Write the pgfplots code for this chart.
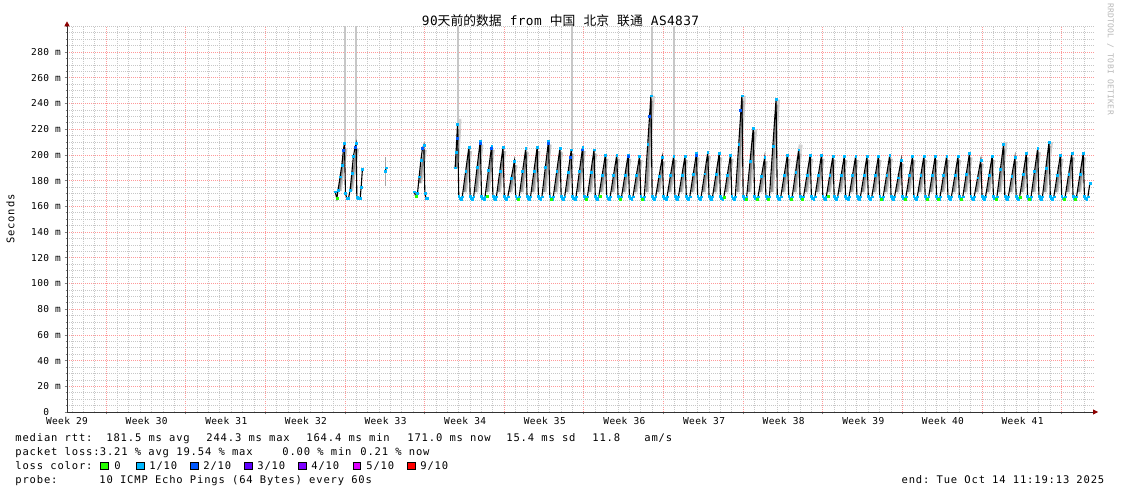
\documentclass[border=0pt]{standalone}
\usepackage{fontspec}
\usepackage{pgfplots}
\usepackage{pgfplotstable}
\pgfplotsset{compat=1.18}
\usetikzlibrary{arrows.meta}
\setmainfont{DejaVu Sans Mono}
\newfontfamily\legfont[LetterSpace=8,WordSpace=1.0]{DejaVu Sans Mono}
\newfontfamily\tickfont[LetterSpace=4,WordSpace=1.0]{DejaVu Sans Mono}
\newfontfamily\ttlfont[LetterSpace=3,WordSpace=1.0]{DejaVu Sans Mono}
\newfontfamily\cjk{Noto Sans CJK SC}
\newcommand\tfont{\tickfont\fontsize{9.5}{11}\selectfont}
\newcommand\lfont{\legfont\fontsize{10.5}{12}\selectfont}
\definecolor{lc0}{HTML}{26FF00}
\definecolor{lc1}{HTML}{00B8FF}
\definecolor{lc2}{HTML}{0059FF}
\definecolor{lc3}{HTML}{5E00FF}
\definecolor{lc4}{HTML}{7E00FF}
\definecolor{lc5}{HTML}{DD00FF}
\definecolor{lc9}{HTML}{FF0000}
\newcommand\lc[1]{{\setlength\fboxsep{0pt}\setlength\fboxrule{0.8pt}\fcolorbox{black}{#1}{\rule{0pt}{6.8pt}\rule{6.8pt}{0pt}}}}
% one legend item, placed where rrdtool put it
\newcommand\leg[3]{\node[anchor=base west, inner sep=0] at (#1pt,#2pt) {\lfont #3};}

% median rtt, x in days since start of graph
\pgfplotstableread[row sep=\\]{
x y\\
23.57 171.4\\ 23.72 166\\ 23.83 172.7\\ 24.01 183\\ 24.16 192\\ 24.30 203.8\\ 24.39 209\\
24.48 170\\ 24.60 166\\ 24.74 166\\ 24.89 172.7\\ 25.04 186\\ 25.18 199\\ 25.33 206\\ 25.42 209\\
25.48 167\\ 25.59 166\\ 25.77 166\\ 25.86 175\\ 25.97 189\\
nan nan\\
27.99 187\\ 28.05 190\\
nan nan\\
30.52 171.4\\ 30.67 167.5\\ 30.81 170\\ 30.96 183\\ 31.11 196\\ 31.25 205\\ 31.37 207.7\\
31.46 170\\ 31.57 166\\ 31.69 166\\
nan nan\\
34.12 190\\ 34.20 202\\ 34.27 213\\ 34.33 224\\
34.44 168\\ 34.53 166\\ 34.64 165.5\\ 34.75 167.5\\ 35.05 187.5\\ 35.33 206\\
35.44 168\\ 35.53 166\\ 35.64 165.5\\ 35.75 167.5\\ 36.05 190.1\\ 36.33 211\\
36.44 168\\ 36.53 166\\ 36.64 165.5\\ 36.75 167.5\\ 37.05 188.0\\ 37.33 207\\
37.44 168\\ 37.53 166\\ 37.64 165.5\\ 37.75 167.5\\ 38.05 187.5\\ 38.33 206\\
38.44 168\\ 38.53 166\\ 38.64 165.5\\ 38.75 167.5\\ 39.05 181.8\\ 39.33 195\\
39.44 168\\ 39.53 166\\ 39.64 165.5\\ 39.75 167.5\\ 40.05 187.0\\ 40.33 205\\
40.44 168\\ 40.53 166\\ 40.64 165.5\\ 40.75 167.5\\ 41.05 187.5\\ 41.33 206\\
41.44 168\\ 41.53 166\\ 41.64 165.5\\ 41.75 167.5\\ 42.05 190.1\\ 42.33 211\\
42.44 168\\ 42.53 166\\ 42.64 165.5\\ 42.75 167.5\\ 43.05 187.0\\ 43.33 205\\
43.44 168\\ 43.53 166\\ 43.64 165.5\\ 43.75 167.5\\ 44.05 186.5\\ 44.33 204\\
44.44 168\\ 44.53 166\\ 44.64 165.5\\ 44.75 167.5\\ 45.05 187.5\\ 45.33 206\\
45.44 168\\ 45.53 166\\ 45.64 165.5\\ 45.75 167.5\\ 46.05 186.5\\ 46.33 204\\
46.44 168\\ 46.53 166\\ 46.64 165.5\\ 46.75 167.5\\ 47.05 184.4\\ 47.33 200\\
47.44 168\\ 47.53 166\\ 47.64 165.5\\ 47.75 167.5\\ 48.05 184.4\\ 48.33 200\\
48.44 168\\ 48.53 166\\ 48.64 165.5\\ 48.75 167.5\\ 49.05 184.4\\ 49.33 200\\
49.44 168\\ 49.53 166\\ 49.64 165.5\\ 49.75 167.5\\ 50.05 183.9\\ 50.33 199\\
50.44 168\\ 50.53 166\\ 50.64 165.5\\ 50.75 167.5\\ 51.05 208.3\\ 51.33 246\\
51.44 168\\ 51.53 166\\ 51.64 165.5\\ 51.75 167.5\\ 52.05 183.4\\ 52.33 198\\
52.44 168\\ 52.53 166\\ 52.64 165.5\\ 52.75 167.5\\ 53.05 183.9\\ 53.33 199\\
53.44 168\\ 53.53 166\\ 53.64 165.5\\ 53.75 167.5\\ 54.05 183.9\\ 54.33 199\\
54.44 168\\ 54.53 166\\ 54.64 165.5\\ 54.75 167.5\\ 55.05 184.9\\ 55.33 201\\
55.44 168\\ 55.53 166\\ 55.64 165.5\\ 55.75 167.5\\ 56.05 185.4\\ 56.33 202\\
56.44 168\\ 56.53 166\\ 56.64 165.5\\ 56.75 167.5\\ 57.05 184.9\\ 57.33 201\\
57.44 168\\ 57.53 166\\ 57.64 165.5\\ 57.75 167.5\\ 58.05 184.4\\ 58.33 200\\
58.44 168\\ 58.53 166\\ 58.64 165.5\\ 58.75 167.5\\ 59.05 208.3\\ 59.33 246\\
59.44 168\\ 59.53 166\\ 59.64 165.5\\ 59.75 167.5\\ 60.05 195.3\\ 60.33 221\\
60.44 168\\ 60.53 166\\ 60.64 165.5\\ 60.75 167.5\\ 61.05 183.4\\ 61.33 198\\
61.44 168\\ 61.53 166\\ 61.64 165.5\\ 61.75 167.5\\ 62.05 206.8\\ 62.33 243\\
62.44 168\\ 62.53 166\\ 62.64 165.5\\ 62.75 167.5\\ 63.05 184.4\\ 63.33 200\\
63.44 168\\ 63.53 166\\ 63.64 165.5\\ 63.75 167.5\\ 64.05 186.5\\ 64.33 204\\
64.44 168\\ 64.53 166\\ 64.64 165.5\\ 64.75 167.5\\ 65.05 184.4\\ 65.33 200\\
65.44 168\\ 65.53 166\\ 65.64 165.5\\ 65.75 167.5\\ 66.05 184.4\\ 66.33 200\\
66.44 168\\ 66.53 166\\ 66.64 165.5\\ 66.75 167.5\\ 67.05 183.9\\ 67.33 199\\
67.44 168\\ 67.53 166\\ 67.64 165.5\\ 67.75 167.5\\ 68.05 183.9\\ 68.33 199\\
68.44 168\\ 68.53 166\\ 68.64 165.5\\ 68.75 167.5\\ 69.05 183.9\\ 69.33 199\\
69.44 168\\ 69.53 166\\ 69.64 165.5\\ 69.75 167.5\\ 70.05 183.9\\ 70.33 199\\
70.44 168\\ 70.53 166\\ 70.64 165.5\\ 70.75 167.5\\ 71.05 183.9\\ 71.33 199\\
71.44 168\\ 71.53 166\\ 71.64 165.5\\ 71.75 167.5\\ 72.05 184.4\\ 72.33 200\\
72.44 168\\ 72.53 166\\ 72.64 165.5\\ 72.75 167.5\\ 73.05 182.3\\ 73.33 196\\
73.44 168\\ 73.53 166\\ 73.64 165.5\\ 73.75 167.5\\ 74.05 183.9\\ 74.33 199\\
74.44 168\\ 74.53 166\\ 74.64 165.5\\ 74.75 167.5\\ 75.05 183.9\\ 75.33 199\\
75.44 168\\ 75.53 166\\ 75.64 165.5\\ 75.75 167.5\\ 76.05 183.9\\ 76.33 199\\
76.44 168\\ 76.53 166\\ 76.64 165.5\\ 76.75 167.5\\ 77.05 183.9\\ 77.33 199\\
77.44 168\\ 77.53 166\\ 77.64 165.5\\ 77.75 167.5\\ 78.05 183.9\\ 78.33 199\\
78.44 168\\ 78.53 166\\ 78.64 165.5\\ 78.75 167.5\\ 79.05 184.9\\ 79.33 201\\
79.44 168\\ 79.53 166\\ 79.64 165.5\\ 79.75 167.5\\ 80.05 182.3\\ 80.33 196\\
80.44 168\\ 80.53 166\\ 80.64 165.5\\ 80.75 167.5\\ 81.05 183.9\\ 81.33 199\\
81.44 168\\ 81.53 166\\ 81.64 165.5\\ 81.75 167.5\\ 82.05 188.6\\ 82.33 208\\
82.44 168\\ 82.53 166\\ 82.64 165.5\\ 82.75 167.5\\ 83.05 183.4\\ 83.33 198\\
83.44 168\\ 83.53 166\\ 83.64 165.5\\ 83.75 167.5\\ 84.05 184.9\\ 84.33 201\\
84.44 168\\ 84.53 166\\ 84.64 165.5\\ 84.75 167.5\\ 85.05 187.0\\ 85.33 205\\
85.44 168\\ 85.53 166\\ 85.64 165.5\\ 85.75 167.5\\ 86.05 189.6\\ 86.33 210\\
86.44 168\\ 86.53 166\\ 86.64 165.5\\ 86.75 167.5\\ 87.05 184.4\\ 87.33 200\\
87.44 168\\ 87.53 166\\ 87.64 165.5\\ 87.75 167.5\\ 88.05 184.9\\ 88.33 201\\
88.44 168\\ 88.53 166\\ 88.64 165.5\\ 88.75 167.5\\ 89.05 184.9\\ 89.33 201\\
89.44 168\\ 89.53 166\\ 89.64 165.5\\ 89.75 167.5\\ 89.92 178\\
}\median

% smoke: spread of the pings along each daily rise
\pgfplotstableread[row sep=\\]{
x y\\
23.85 172\\ 24.36 205\\ nan nan\\ 24.85 172\\ 25.38 205\\ nan nan\\
30.92 178\\ 31.33 204\\ nan nan\\ 34.12 190\\ 34.31 220\\ nan nan\\
34.85 171\\ 35.31 203\\ nan nan\\ 35.85 171\\ 36.31 208\\ nan nan\\
36.85 171\\ 37.31 204\\ nan nan\\ 37.85 171\\ 38.31 203\\ nan nan\\
38.85 171\\ 39.31 192\\ nan nan\\ 39.85 171\\ 40.31 202\\ nan nan\\
40.85 171\\ 41.31 203\\ nan nan\\ 41.85 171\\ 42.31 208\\ nan nan\\
42.85 171\\ 43.31 202\\ nan nan\\ 43.85 171\\ 44.31 201\\ nan nan\\
44.85 171\\ 45.31 203\\ nan nan\\ 45.85 171\\ 46.31 201\\ nan nan\\
46.85 171\\ 47.31 197\\ nan nan\\ 47.85 171\\ 48.31 197\\ nan nan\\
48.85 171\\ 49.31 197\\ nan nan\\ 49.85 171\\ 50.31 196\\ nan nan\\
50.85 171\\ 51.31 242\\ nan nan\\ 51.85 171\\ 52.31 195\\ nan nan\\
52.85 171\\ 53.31 196\\ nan nan\\ 53.85 171\\ 54.31 196\\ nan nan\\
54.85 171\\ 55.31 198\\ nan nan\\ 55.85 171\\ 56.31 199\\ nan nan\\
56.85 171\\ 57.31 198\\ nan nan\\ 57.85 171\\ 58.31 197\\ nan nan\\
58.85 171\\ 59.31 242\\ nan nan\\ 59.85 171\\ 60.31 218\\ nan nan\\
60.85 171\\ 61.31 195\\ nan nan\\ 61.85 171\\ 62.31 239\\ nan nan\\
62.85 171\\ 63.31 197\\ nan nan\\ 63.85 171\\ 64.31 201\\ nan nan\\
64.85 171\\ 65.31 197\\ nan nan\\ 65.85 171\\ 66.31 197\\ nan nan\\
66.85 171\\ 67.31 196\\ nan nan\\ 67.85 171\\ 68.31 196\\ nan nan\\
68.85 171\\ 69.31 196\\ nan nan\\ 69.85 171\\ 70.31 196\\ nan nan\\
70.85 171\\ 71.31 196\\ nan nan\\ 71.85 171\\ 72.31 197\\ nan nan\\
72.85 171\\ 73.31 193\\ nan nan\\ 73.85 171\\ 74.31 196\\ nan nan\\
74.85 171\\ 75.31 196\\ nan nan\\ 75.85 171\\ 76.31 196\\ nan nan\\
76.85 171\\ 77.31 196\\ nan nan\\ 77.85 171\\ 78.31 196\\ nan nan\\
78.85 171\\ 79.31 198\\ nan nan\\ 79.85 171\\ 80.31 193\\ nan nan\\
80.85 171\\ 81.31 196\\ nan nan\\ 81.85 171\\ 82.31 205\\ nan nan\\
82.85 171\\ 83.31 195\\ nan nan\\ 83.85 171\\ 84.31 198\\ nan nan\\
84.85 171\\ 85.31 202\\ nan nan\\ 85.85 171\\ 86.31 207\\ nan nan\\
86.85 171\\ 87.31 197\\ nan nan\\ 87.85 171\\ 88.31 198\\ nan nan\\
88.85 171\\ 89.31 198\\ nan nan\\
}\smoke

% wider smoke round the high evenings
\pgfplotstableread[row sep=\\]{
x y\\
34.12 195\\ 34.31 228\\ nan nan\\ 50.85 185\\ 51.31 246\\ nan nan\\
58.85 185\\ 59.31 246\\ nan nan\\ 59.85 180\\ 60.31 220\\ nan nan\\
61.85 185\\ 62.31 243\\ nan nan\\ 63.90 185\\ 64.31 208\\ nan nan\\
81.95 185\\ 82.31 210\\ nan nan\\ 85.90 185\\ 86.31 210\\ nan nan\\
}\smokewide

\begin{document}
\begin{tikzpicture}
\path[use as bounding box] (0,0) rectangle (1121pt,494pt);
\fill[white] (0,0) rectangle (1121pt,494pt);
\begin{axis}[
  at={(67pt,82pt)}, anchor=south west,
  scale only axis, width=1026pt, height=385.7pt,
  xmin=0, xmax=90.2, ymin=0, ymax=300,
  axis lines=left,
  axis line style={black!80, line width=0.7pt},
  x axis line style={-{Triangle[length=5pt,width=5pt,color=red!55!black]}, shorten >=-5pt},
  y axis line style={-{Triangle[length=5pt,width=5pt,color=red!55!black]}, shorten >=-5pt},
  xtick={3.43,10.43,17.43,24.43,31.43,38.43,45.43,52.43,59.43,66.43,73.43,80.43,87.43},
  xticklabels={},
  minor xtick={0.43,1.43,...,89.43},
  extra x ticks={0,7,14,21,28,35,42,49,56,63,70,77,84},
  extra x tick labels={Week 29,Week 30,Week 31,Week 32,Week 33,Week 34,Week 35,Week 36,Week 37,Week 38,Week 39,Week 40,Week 41},
  extra x tick style={grid=none, major tick length=0pt},
  ytick={0,20,...,280},
  yticklabels={0\phantom{~m},20~m,40~m,60~m,80~m,100~m,120~m,140~m,160~m,180~m,200~m,220~m,240~m,260~m,280~m},
  minor ytick={5,10,...,300},
  grid=both,
  major grid style={red!40, dash pattern=on 1pt off 1pt, line width=0.7pt},
  minor grid style={black!22, dash pattern=on 1pt off 1pt, line width=0.7pt},
  tick align=outside, major tick length=2.5pt, minor tick length=1.5pt,
  tick style={black!50, line width=0.6pt},
  tick label style={font=\tfont},
  xticklabel style={yshift=-2pt},
  unbounded coords=jump,
]
\addplot[black!18, line width=4pt, xshift=2.2pt, no markers] table {\smokewide};
\addplot[black!22, line width=3.2pt, xshift=1.8pt, no markers] table {\smoke};
\addplot[black!45, line width=1.8pt, xshift=1.0pt, no markers] table {\smoke};
% single pings far above the rest
\addplot[black!22, line width=1.4pt, no markers] coordinates {
(24.45,209) (24.45,300) (24.45,nan) (25.40,209) (25.40,300) (25.40,nan)
(34.37,222) (34.37,300) (34.37,nan) (44.39,204) (44.39,300) (44.39,nan)
(51.42,246) (51.42,300) (51.42,nan) (53.35,199) (53.35,300) (53.35,nan)
};
\addplot[black!35, line width=1.4pt, no markers] coordinates {(28.02,176) (28.02,198)};
\addplot[black, line width=1.1pt, no markers] table {\median};
\addplot[only marks, mark=square*, mark size=0.9pt, color=lc1] table {\median};
\addplot[only marks, mark=square*, mark size=1.0pt, color=lc0] coordinates {
(23.72,166) (30.67,167.5) (36.9,168) (39.7,165.5) (42.6,165.5) (45.6,165.5) (46.9,168)
(48.6,165.5) (50.6,165.5) (57.8,167) (59.7,165.5) (60.7,165.5) (61.6,165.5) (63.7,165.5)
(64.6,165.5) (66.9,168) (71.6,165.5) (73.7,165.5) (75.6,165.5) (76.6,165.5) (78.6,165.5)
(81.7,165.5) (83.8,167) (84.6,165.5) (87.7,165.5) (88.6,165.5)
};
\addplot[only marks, mark=square*, mark size=0.9pt, color=lc2] coordinates {
(24.30,203.8) (25.33,206) (31.25,205) (34.27,213) (36.30,209) (37.30,205) (42.30,209)
(44.20,198) (45.30,204) (49.30,199) (51.20,230) (55.30,200) (59.20,235)
};
\end{axis}
\node[anchor=base, inner sep=0] at (560.5pt,468pt) {\ttlfont\fontsize{12.8}{14}\selectfont 90{\cjk 天前的数据} from {\cjk 中国} {\cjk 北京} {\cjk 联通} AS4837};
\node[rotate=90, inner sep=0] at (10.5pt,275pt) {\lfont Seconds};
\node[rotate=-90, inner sep=0, text=black!28] at (1110.5pt,435pt) {\tickfont\fontsize{8}{9}\selectfont RRDTOOL / TOBI OETIKER};
% legend, line by line
\leg{15.2}{52.5}{median~rtt:}
\leg{106.2}{52.5}{181.5~ms~avg}
\leg{206.2}{52.5}{244.3~ms~max}
\leg{306.2}{52.5}{164.4~ms~min}
\leg{407.2}{52.5}{171.0~ms~now}
\leg{506.2}{52.5}{15.4~ms~sd}
\leg{592.2}{52.5}{11.8}
\leg{644.2}{52.5}{am/s}
\leg{15.2}{38.5}{packet~loss:}
\leg{99.7}{38.5}{3.21~\%~avg}
\leg{176.2}{38.5}{19.54~\%~max}
\leg{282.2}{38.5}{0.00~\%~min}
\leg{360.2}{38.5}{0.21~\%~now}
\leg{15.2}{24.5}{loss~color:}
\leg{100}{24.5}{\lc{lc0}}
\leg{114.2}{24.5}{0}
\leg{136}{24.5}{\lc{lc1}}
\leg{149.2}{24.5}{1/10}
\leg{190}{24.5}{\lc{lc2}}
\leg{203.2}{24.5}{2/10}
\leg{244}{24.5}{\lc{lc3}}
\leg{257.2}{24.5}{3/10}
\leg{298}{24.5}{\lc{lc4}}
\leg{311.2}{24.5}{4/10}
\leg{352.5}{24.5}{\lc{lc5}}
\leg{366.2}{24.5}{5/10}
\leg{407}{24.5}{\lc{lc9}}
\leg{420.2}{24.5}{9/10}
\leg{15.2}{10.5}{probe:}
\leg{99.2}{10.5}{10~ICMP~Echo~Pings~(64~Bytes)~every~60s}
\node[anchor=base east, inner sep=0] at (1104.5pt,10.5pt) {\lfont end:~Tue~Oct~14~11:19:13~2025};
\end{tikzpicture}
\end{document}
